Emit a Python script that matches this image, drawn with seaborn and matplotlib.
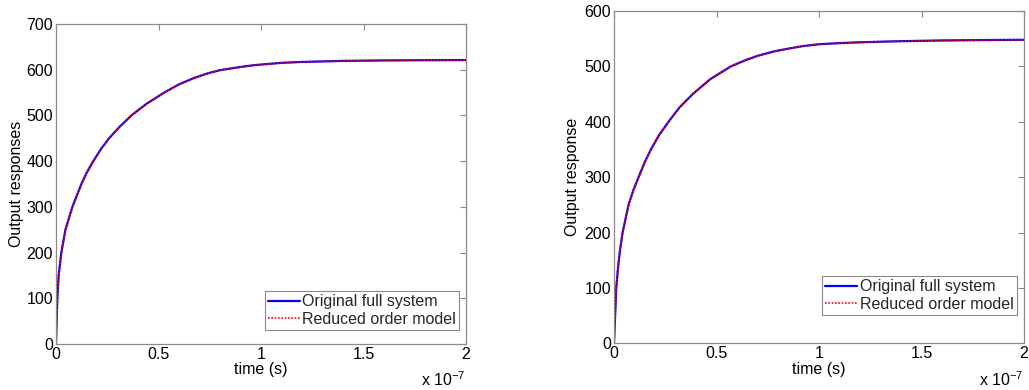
import matplotlib
matplotlib.use("Agg")
import matplotlib.pyplot as plt
import seaborn as sns
import pandas as pd

# ---- data (time in units of 1e-7 s) ----
t_left = [0, 0.0065, 0.013, 0.026, 0.046, 0.08, 0.10, 0.124, 0.15, 0.182, 0.22,
          0.259, 0.31, 0.368, 0.44, 0.528, 0.60, 0.674, 0.74, 0.80, 0.90,
          0.967, 1.1, 1.2, 1.4, 1.6, 1.8, 2.0]
y_left_full = [0, 100, 150, 200, 250, 300, 323, 350, 375, 400, 427,
               450, 475, 500, 525, 550, 568, 582, 592, 599, 606,
               610, 615, 617, 619.3, 620.3, 620.8, 621]
y_left_red = list(y_left_full)

t_right = [0, 0.011, 0.02, 0.03, 0.042, 0.071, 0.095, 0.12, 0.15, 0.18, 0.22,
           0.27, 0.32, 0.384, 0.47, 0.57, 0.64, 0.70, 0.78, 0.85, 0.92, 1.0,
           1.1, 1.2, 1.4, 1.6, 1.8, 2.0]
y_right_full = [0, 100, 138, 170, 200, 250, 277, 300, 327, 350, 376,
                402, 426, 450, 477, 500, 511, 519, 527, 532, 536.5, 540,
                542, 543.5, 545.5, 546.8, 547.5, 548]
y_right_red = list(y_right_full)

series_names = ["Original full system", "Reduced order model"]
x_ticks = [0, 0.5, 1, 1.5, 2]
x_tick_labels = ["0", "0.5", "1", "1.5", "2"]
left_yticks = [0, 100, 200, 300, 400, 500, 600, 700]
right_yticks = [0, 100, 200, 300, 400, 500, 600]
left_ylabel = "Output responses"
right_ylabel = "Output response"
xlabel = "time (s)"
offset_label = r"x 10$^{-7}$"

sns.set_theme(style="white")
plt.rcParams["font.family"] = ["Liberation Sans", "DejaVu Sans"]
plt.rcParams["mathtext.fontset"] = "custom"
plt.rcParams["mathtext.rm"] = "Liberation Sans"
plt.rcParams["mathtext.it"] = "Liberation Sans"
plt.rcParams["mathtext.default"] = "regular"

FS = 11.5

fig = plt.figure(figsize=(10.29, 3.9), dpi=100)
ax1 = fig.add_axes([56 / 1029, 1 - 344 / 390, 410 / 1029, 320 / 390])
ax2 = fig.add_axes([614 / 1029, 1 - 343.3 / 390, 410 / 1029, 332.3 / 390])

spine_gray = "#8a8a8a"


def draw(ax, t, yf, yr, yticks, ylabel, ymax, leg_anchor, ylab_x):
    df_f = pd.DataFrame({"t": t, "y": yf})
    df_r = pd.DataFrame({"t": t, "y": yr})
    sns.lineplot(data=df_f, x="t", y="y", ax=ax, color="#0000ff", lw=1.6,
                 label=series_names[0], sort=False)
    sns.lineplot(data=df_r, x="t", y="y", ax=ax, color="#ff0000", lw=1.2,
                 linestyle=(0, (1, 1)), label=series_names[1], sort=False)
    ax.set_xlim(0, 2)
    ax.set_ylim(0, ymax)
    ax.set_xticks(x_ticks)
    ax.set_xticklabels(x_tick_labels)
    ax.set_yticks(yticks)
    ax.tick_params(direction="in", length=4, width=0.8, color=spine_gray,
                   labelsize=FS, labelcolor="black", top=True, right=True,
                   pad=2)
    for s in ax.spines.values():
        s.set_color(spine_gray)
        s.set_linewidth(0.9)
        s.set_visible(True)
    ax.set_xlabel(xlabel, fontsize=FS, color="black")
    ax.set_ylabel(ylabel, fontsize=FS, color="black")
    ax.xaxis.set_label_coords(0.5, -0.055)
    ax.xaxis.label.set_va("top")
    ax.yaxis.set_label_coords(ylab_x, 0.5)
    ax.text(1.0, -0.13, offset_label, transform=ax.transAxes, ha="right",
            va="baseline", fontsize=FS, color="black")
    leg = ax.legend(loc="lower right", bbox_to_anchor=leg_anchor, fontsize=FS,
                    frameon=True, fancybox=False, framealpha=1,
                    edgecolor=spine_gray, borderpad=0.2, labelspacing=0.15,
                    handlelength=2.0, handletextpad=0.15, borderaxespad=0)
    leg.get_frame().set_linewidth(0.8)


draw(ax1, t_left, y_left_full, y_left_red, left_yticks, left_ylabel, 700,
     (0.983, 0.044), -0.078)
draw(ax2, t_right, y_right_full, y_right_red, right_yticks, right_ylabel, 600,
     (0.982, 0.085), -0.083)

fig.savefig("out.png", dpi=100)
